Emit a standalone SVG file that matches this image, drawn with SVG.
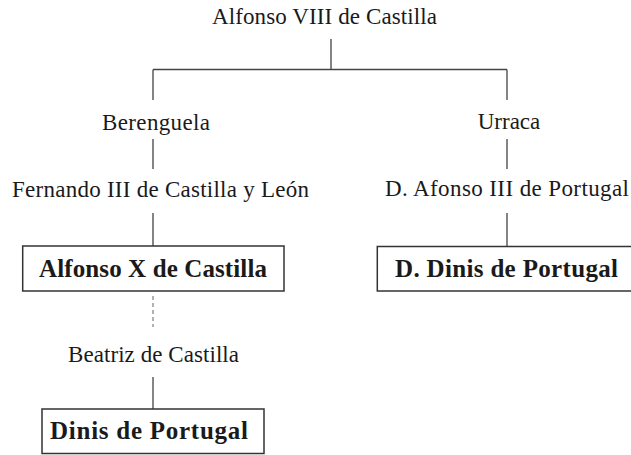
<svg xmlns="http://www.w3.org/2000/svg" width="631" height="455" viewBox="0 0 631 455">
<style>
.box{fill:#fff;stroke:#333;stroke-width:1.5}
.ln{stroke:#444;stroke-width:1.3;fill:none}
.ds{stroke:#888;stroke-width:1.3;stroke-dasharray:4,3;fill:none}
</style>
<rect width="631" height="455" fill="#fff"/>
<g id="connectors">
<path class="ln" d="M331,39V69.5M153,69.5H507M153,69.5V100M507,69.5V100"/>
<path class="ln" d="M153,139V169M507,139V169"/>
<path class="ln" d="M153,213V246M507,213V246"/>
<path class="ds" d="M153,296V327"/>
<path class="ln" d="M153,377V409"/>
</g>
<g font-family="Liberation Serif" fill="#1a1a1a" font-size="23" lengthAdjust="spacing">
<g id="alfonso8"><text x="212" y="24" textLength="225">Alfonso VIII de Castilla</text></g>
<g id="berenguela"><text x="102" y="130" textLength="108">Berenguela</text></g>
<g id="urraca"><text x="509" y="128.5" text-anchor="middle">Urraca</text></g>
<g id="fernando3"><text x="12" y="196.5" textLength="297">Fernando III de Castilla y León</text></g>
<g id="afonso3"><text x="385" y="196" textLength="244">D. Afonso III de Portugal</text></g>
<g id="alfonso10"><rect class="box" x="22.7" y="246" width="261.3" height="45"/><text font-size="25" font-weight="bold" x="39" y="277" textLength="228">Alfonso X de Castilla</text></g>
<g id="ddinis"><rect class="box" x="377.3" y="246.5" width="260" height="44.5"/><text font-size="25" font-weight="bold" x="395" y="277" textLength="223">D. Dinis de Portugal</text></g>
<g id="beatriz"><text x="68" y="362" textLength="171">Beatriz de Castilla</text></g>
<g id="dinis"><rect class="box" x="42" y="409" width="222" height="44.5"/><text font-size="25" font-weight="bold" x="50" y="439" textLength="198">Dinis de Portugal</text></g>
</g>
</svg>
